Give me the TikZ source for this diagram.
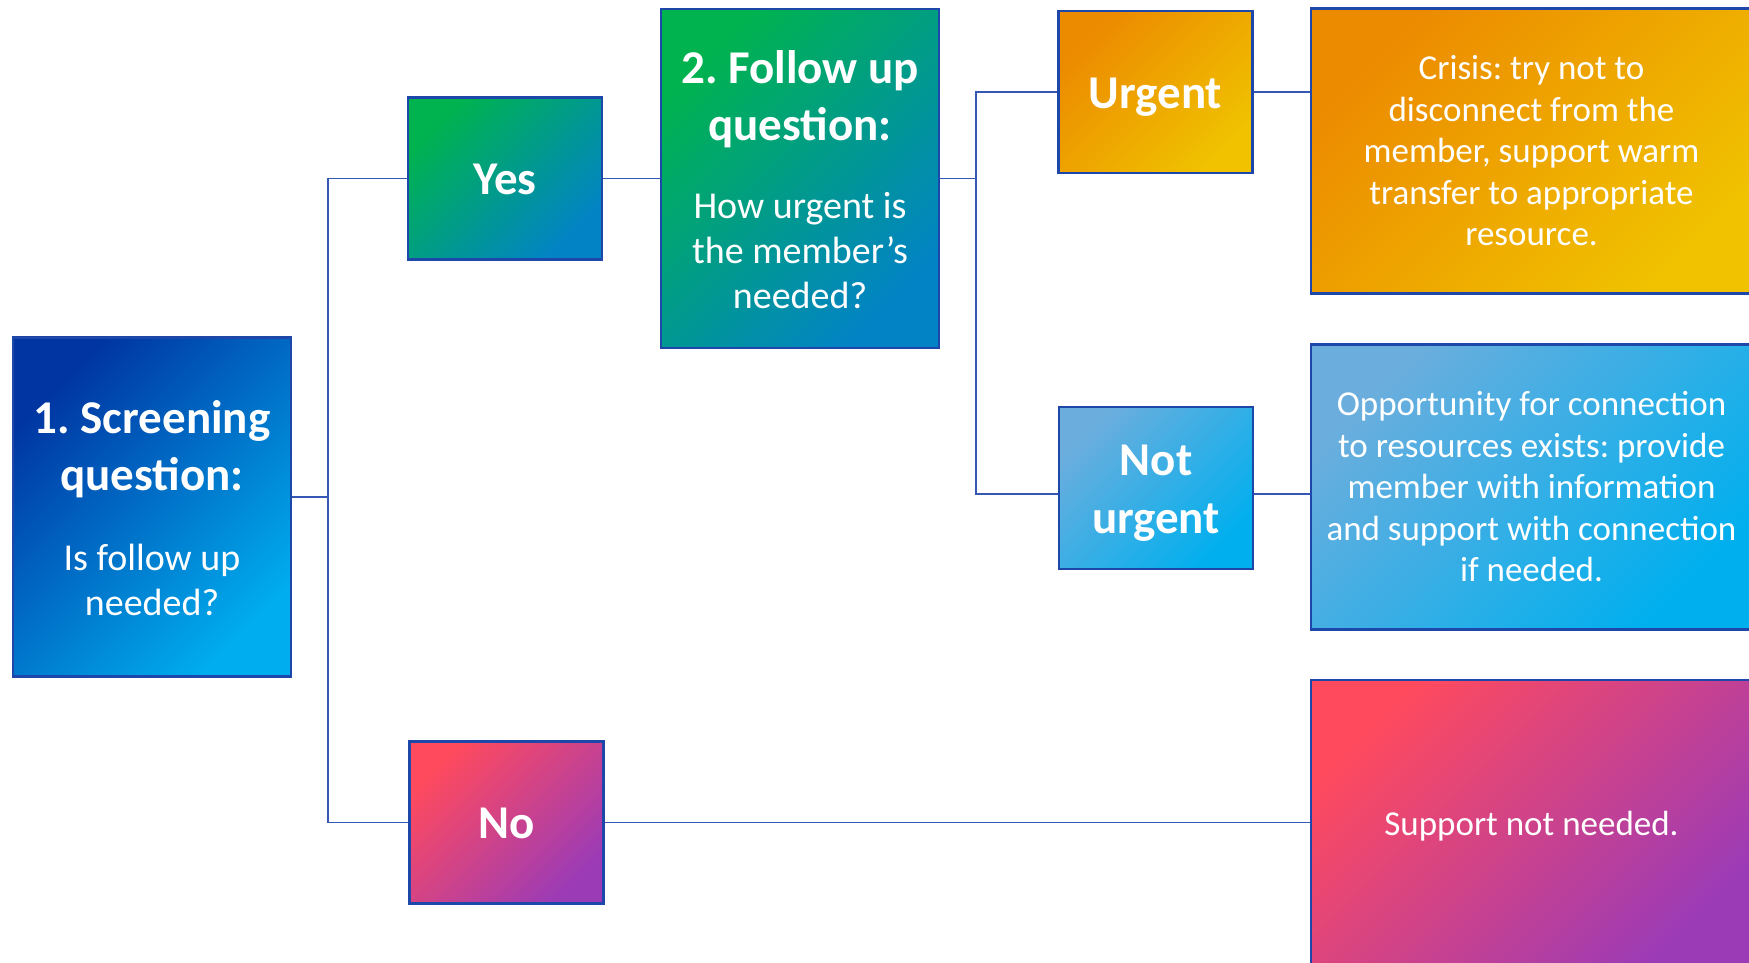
\documentclass[tikz,border=0pt]{standalone}
\usepackage{fontspec}
\setmainfont{Carlito}
\definecolor{edgeblue}{HTML}{1D48AA}
\definecolor{wireblue}{HTML}{3558B4}
\definecolor{navy}{HTML}{0035A2}
\definecolor{sky}{HTML}{00ADEE}
\definecolor{leaf}{HTML}{00B34E}
\definecolor{ocean}{HTML}{0283C6}
\definecolor{amber}{HTML}{EC8A00}
\definecolor{gold}{HTML}{F0C200}
\definecolor{paleblue}{HTML}{6BAEDD}
\definecolor{brightblue}{HTML}{00AFEE}
\definecolor{coral}{HTML}{FF4A5E}
\definecolor{plum}{HTML}{9C3BB6}
\newcommand{\wordgap}{\spaceskip=0.226em\relax\xspaceskip=0.226em\relax}
\newcommand{\topgap}{\rule{0pt}{0.952em}}
\newcommand{\botgap}{\rule[-0.269em]{0pt}{0pt}}
\newcommand{\headtext}[2][57]{{\fontsize{47}{#1}\selectfont\bfseries\wordgap #2\par}}
\newcommand{\bodytext}[1]{{\fontsize{38}{45}\selectfont\wordgap #1\par}}
\newcommand{\sidetext}[1]{{\fontsize{35}{41.5}\selectfont\wordgap #1\par}}
\begin{document}
\begin{tikzpicture}[x=1pt, y=-1pt,
    box/.style={draw=edgeblue, line width=2.2pt, text=white, align=center, inner sep=0pt},
    qbox/.style={box, minimum width=278pt, minimum height=339pt, text width=270pt},
    abox/.style={box, minimum width=194pt, minimum height=162pt, text width=190pt},
    rbox/.style={box, minimum width=441pt, minimum height=285pt, text width=436pt},
    grad/.style 2 args={top color=#1, bottom color=#2, shading angle=45},
    wire/.style={draw=wireblue, line width=1.6pt}]
    \useasboundingbox (0,0) rectangle (1749,962);
    \clip (0,0) rectangle (1749,962);

    \node[qbox, grad={navy}{sky}] (screen) at (152,507)
        {\headtext{\topgap 1. Screening\\question:}\vspace{35pt}\bodytext{Is follow up\\needed?\botgap}};
    \node[abox, grad={leaf}{ocean}] (yes) at (505,178.5) {\headtext{\topgap Yes\botgap}};
    \node[abox, grad={coral}{plum}] (no) at (506.5,822.5) {\headtext{\topgap No\botgap}};
    \node[qbox, grad={leaf}{ocean}] (follow) at (800,178.5)
        {\headtext{\topgap 2. Follow up\\question:}\vspace{33pt}\bodytext{How urgent is\\the member’s\\needed?\botgap}};
    \node[abox, grad={amber}{gold}] (urgent) at (1155.5,92) {\headtext{\topgap Urgent\botgap}};
    \node[abox, grad={paleblue}{brightblue}] (noturgent) at (1156,488)
        {\headtext[58]{\topgap Not\\urgent\botgap}};
    \node[rbox, grad={amber}{gold}] (crisis) at (1531.5,151)
        {\sidetext{\topgap Crisis: try not to\\disconnect from the\\member, support warm\\transfer to appropriate\\resource.\botgap}};
    \node[rbox, grad={paleblue}{brightblue}] (connect) at (1531.5,487)
        {\sidetext{\topgap Opportunity for connection\\to resources exists: provide\\member with information\\and support with connection\\if needed.\botgap}};
    \node[rbox, minimum height=287pt, grad={coral}{plum}] (nosupport) at (1531.5,823.5)
        {\sidetext{\topgap Support not needed.\botgap}};

    \coordinate (split1) at (328,497);
    \coordinate (split2) at (976,178.5);
    \draw[wire] (screen.east |- split1) -- (split1) |- (yes.west);
    \draw[wire] (split1) |- (no.west);
    \draw[wire] (yes.east) -- (follow.west);
    \draw[wire] (follow.east) -- (split2) |- (urgent.west);
    \draw[wire] (split2) |- ([yshift=-6pt]noturgent.west);
    \draw[wire] (urgent.east) -- (urgent.east -| crisis.west);
    \draw[wire] ([yshift=-6pt]noturgent.east) -- ([yshift=-6pt]noturgent.east -| connect.west);
    \draw[wire] (no.east) -- (no.east -| nosupport.west);
\end{tikzpicture}
\end{document}
